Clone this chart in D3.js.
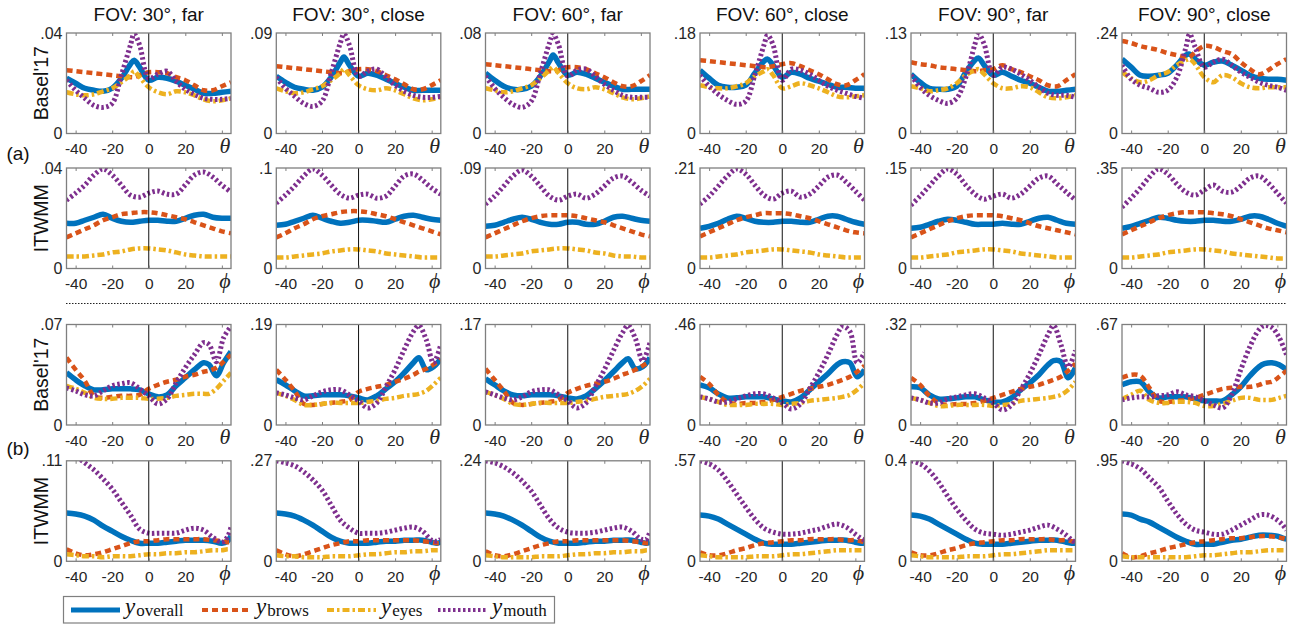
<!DOCTYPE html>
<html>
<head>
<meta charset="utf-8">
<script src="https://cdn.jsdelivr.net/npm/d3@7"></script>
<style>
  body { margin: 0; background: #fff; }
  svg { display: block; }
</style>
</head>
<body>
<svg id="fig" width="1303" height="628"></svg>
<script>
// angles sampled along each row
var thetaA = [-45,-40,-35,-30,-25,-20,-15,-10,-8,-5,0,5,10,15,20,25,30,35,40,45];
var phiA   = [-45,-40,-35,-30,-25,-20,-15,-10,-5,0,5,10,15,20,25,30,35,40,45];
var thetaB = [-45,-40,-35,-30,-25,-20,-15,-10,-5,0,5,10,15,20,25,30,33,37,41,45];
var phiB   = [-45,-40,-35,-30,-25,-20,-15,-10,-5,0,5,10,15,20,25,30,35,40,43,45];

var columns = ["FOV: 30°, far", "FOV: 30°, close", "FOV: 60°, far", "FOV: 60°, close", "FOV: 90°, far", "FOV: 90°, close"];

// y axis maxima and their labels
var basA_max = [0.04, 0.09, 0.08, 0.18, 0.13, 0.24];
var basA_ticks = [".04", ".09", ".08", ".18", ".13", ".24"];
var itwA_max = [0.04, 0.1, 0.09, 0.21, 0.15, 0.35];
var itwA_ticks = [".04", ".1", ".09", ".21", ".15", ".35"];
var basB_max = [0.07, 0.19, 0.17, 0.46, 0.32, 0.67];
var basB_ticks = [".07", ".19", ".17", ".46", ".32", ".67"];
var itwB_max = [0.11, 0.27, 0.24, 0.57, 0.4, 0.95];
var itwB_ticks = [".11", ".27", ".24", ".57", "0.4", ".95"];

// (a) Basel'17, theta
var basA_overall = [
  [.022,.020,.018,.0172,.0168,.018,.022,.0276,.0292,.0264,.0212,.0224,.022,.0208,.0192,.0176,.016,.016,.0164,.0168],
  [.0513,.0459,.0414,.0396,.0387,.0414,.0504,.0639,.0684,.0612,.0513,.054,.0522,.0486,.045,.0414,.0387,.0387,.0387,.0387],
  [.048,.0424,.0376,.0352,.0352,.0376,.0456,.0576,.0624,.056,.0464,.0488,.0472,.044,.0408,.0376,.0352,.0352,.0352,.0352],
  [.1134,.099,.0864,.0828,.0828,.0864,.108,.1296,.1332,.1224,.1008,.1098,.1062,.099,.0936,.0882,.0828,.0828,.081,.081],
  [.0767,.0663,.0585,.0572,.0572,.0611,.0793,.0949,.0975,.0884,.0754,.0793,.0741,.0689,.065,.0598,.0546,.0546,.0559,.0572],
  [.1776,.1584,.1392,.1368,.1392,.144,.1632,.1872,.1896,.1776,.1632,.1704,.1728,.1632,.1512,.1392,.132,.1296,.1296,.1272]
];
var basA_brows = [
  [.0252,.0248,.0244,.024,.0236,.0232,.0228,.0224,.0224,.0232,.0244,.0244,.024,.0224,.0212,.0192,.0172,.0172,.0188,.0204],
  [.0603,.0594,.0585,.0576,.0567,.0558,.0549,.054,.054,.0558,.0576,.0576,.0558,.0522,.0486,.0441,.0396,.0396,.0432,.0477],
  [.0552,.0544,.0536,.0528,.052,.0512,.0504,.0496,.0496,.0504,.0528,.0528,.0512,.048,.0448,.0408,.0376,.0376,.0416,.0464],
  [.1314,.1296,.1278,.126,.1242,.1224,.1206,.1188,.1188,.1206,.1242,.126,.1206,.1134,.1062,.0972,.0882,.0864,.0954,.1062],
  [.0923,.0897,.0884,.0858,.0845,.0832,.0819,.0806,.0806,.0819,.0832,.0884,.0832,.0793,.0741,.0689,.0624,.0611,.0689,.0767],
  [.2208,.216,.2088,.204,.1992,.192,.1872,.1824,.1824,.1944,.2088,.2064,.1968,.1896,.1704,.1536,.1416,.1512,.1656,.1776]
];
var basA_eyes = [
  [.0164,.0156,.0152,.0156,.0168,.018,.0204,.0232,.0248,.0224,.0184,.0164,.0156,.0168,.0164,.0152,.0136,.0128,.0132,.014],
  [.0405,.0378,.036,.0369,.0396,.0423,.0477,.054,.0576,.0522,.0432,.0396,.0387,.0405,.0387,.0351,.0315,.0297,.0306,.0324],
  [.036,.0344,.0328,.0336,.036,.0384,.044,.0504,.0528,.048,.04,.036,.0352,.0368,.0352,.032,.0288,.0272,.028,.0296],
  [.0864,.0828,.081,.081,.0846,.09,.1026,.1116,.1152,.1044,.081,.0846,.09,.0864,.081,.0738,.0666,.0648,.0666,.0684],
  [.0611,.0585,.0546,.0559,.0585,.065,.0754,.0819,.0832,.0767,.065,.0585,.0585,.0611,.0598,.0533,.0468,.0455,.0468,.0494],
  [.1464,.132,.1224,.1272,.1392,.1464,.1632,.1752,.1776,.1656,.1344,.1224,.1392,.1344,.12,.1104,.108,.1104,.1104,.1104]
];
var basA_mouth = [
  [.0212,.0172,.014,.0112,.0104,.012,.0232,.0352,.0396,.0352,.022,.0236,.0248,.0208,.0176,.0156,.014,.0136,.0136,.014],
  [.0504,.0405,.0333,.027,.0243,.0288,.054,.081,.0891,.0792,.0513,.0558,.0576,.0504,.0432,.0378,.0342,.0324,.0324,.0333],
  [.0456,.036,.0288,.0232,.0208,.0256,.048,.072,.0792,.0704,.0456,.0504,.0512,.0456,.0392,.0344,.0304,.0288,.0288,.0288],
  [.1044,.0846,.0702,.0594,.0522,.0576,.1044,.1584,.1764,.1584,.0954,.1152,.1134,.1062,.0954,.0846,.0774,.072,.0666,.063],
  [.0754,.0598,.0494,.0429,.039,.0455,.0728,.1157,.1287,.1157,.0754,.0858,.0832,.0767,.0689,.0598,.052,.0494,.0494,.0468],
  [.1632,.1296,.1152,.108,.0984,.1032,.1344,.2064,.2376,.2064,.1584,.1704,.1776,.1632,.1464,.1344,.1224,.1152,.1104,.1032]
];

// (a) ITWMM, phi
var itwA_overall = [
  [.018,.018,.0192,.0204,.0216,.02,.0188,.0184,.0188,.0192,.0192,.0188,.0188,.02,.0212,.0216,.0204,.02,.02],
  [.043,.044,.047,.05,.053,.05,.047,.045,.046,.048,.048,.047,.046,.049,.052,.053,.051,.049,.048],
  [.0378,.0387,.0414,.0441,.0459,.0441,.0414,.0396,.0396,.0414,.0414,.0396,.0396,.0423,.0459,.0468,.045,.0432,.0423],
  [.084,.0882,.0945,.1029,.1092,.105,.0987,.0966,.0966,.0987,.0987,.0966,.0966,.1029,.1092,.1092,.1029,.0966,.0924],
  [.06,.0615,.066,.0705,.0735,.072,.069,.066,.066,.066,.0675,.066,.066,.0705,.075,.0765,.072,.0675,.066],
  [.14,.147,.1575,.168,.1785,.175,.168,.1645,.1645,.168,.168,.1645,.1645,.1715,.182,.182,.1715,.1575,.147]
];
var itwA_brows = [
  [.0124,.014,.0156,.0172,.0192,.0204,.0216,.022,.0224,.0224,.022,.0212,.0204,.0196,.0184,.0172,.016,.0148,.014],
  [.031,.035,.04,.044,.049,.052,.054,.056,.057,.057,.056,.054,.052,.049,.046,.043,.04,.037,.034],
  [.0279,.0315,.0351,.0387,.0423,.045,.0468,.0477,.0477,.0477,.0468,.045,.0432,.0414,.0387,.036,.0333,.0306,.0288],
  [.0672,.0756,.084,.0924,.1008,.1071,.1113,.1155,.1155,.1155,.1134,.1092,.105,.0987,.0924,.0861,.0798,.0756,.0735],
  [.0465,.0525,.0585,.0645,.0705,.075,.078,.0795,.0795,.0795,.078,.075,.072,.0675,.063,.06,.057,.054,.051],
  [.119,.133,.147,.161,.175,.1855,.1925,.196,.196,.196,.1925,.189,.182,.1715,.161,.1505,.14,.133,.126]
];
var itwA_eyes = [
  [.0048,.0048,.0048,.0052,.0056,.0064,.0068,.0076,.008,.008,.0076,.0072,.0064,.0056,.0052,.0048,.0048,.0048,.0048],
  [.011,.011,.012,.013,.014,.015,.017,.018,.019,.019,.018,.017,.015,.014,.013,.012,.011,.011,.011],
  [.0108,.0108,.0117,.0126,.0135,.0153,.0162,.0171,.018,.018,.0171,.0162,.0144,.0135,.0117,.0108,.0108,.0099,.0099],
  [.0231,.0231,.0252,.0273,.0294,.0336,.0357,.0378,.0399,.0399,.0378,.0357,.0336,.0294,.0273,.0252,.0231,.0231,.0231],
  [.0165,.0165,.018,.0195,.021,.024,.0255,.027,.0285,.0285,.027,.0255,.0225,.021,.0195,.018,.0165,.0165,.0165],
  [.0385,.0385,.042,.0455,.049,.056,.0595,.063,.0665,.0665,.063,.0595,.0525,.049,.0455,.042,.0385,.035,.035]
];
var itwA_mouth = [
  [.0272,.03,.0332,.0372,.0396,.0372,.0332,.0292,.0284,.03,.0308,.0296,.0296,.0332,.0372,.0384,.0364,.0332,.0304],
  [.065,.073,.082,.092,.099,.093,.083,.074,.070,.073,.074,.070,.072,.082,.092,.094,.088,.080,.074],
  [.0576,.0648,.0738,.0828,.0882,.0828,.0738,.0648,.0612,.0648,.0666,.063,.0666,.0738,.081,.0828,.0774,.0702,.0648],
  [.1344,.1512,.1722,.1932,.2079,.1974,.1743,.1533,.1449,.1575,.1617,.1491,.1554,.1722,.1911,.1953,.1806,.1617,.1428],
  [.0945,.108,.123,.138,.1485,.141,.1245,.111,.1035,.108,.111,.105,.111,.123,.135,.138,.126,.114,.102],
  [.2135,.245,.28,.3185,.3465,.329,.294,.266,.2555,.273,.2905,.2695,.266,.287,.315,.322,.2975,.2625,.2275]
];

// (b) Basel'17, theta
var basB_overall = [
  [.0364,.0315,.0273,.0245,.0245,.0252,.0252,.0252,.0245,.0217,.0196,.021,.0273,.0329,.0385,.0434,.042,.0343,.0434,.0511],
  [.0855,.076,.0646,.0551,.0551,.057,.057,.057,.0551,.0513,.0475,.0551,.0684,.0817,.0988,.1178,.1273,.1045,.1102,.1254],
  [.0782,.068,.0578,.051,.0493,.051,.051,.051,.0493,.0459,.0442,.0493,.0612,.0748,.0901,.1054,.1122,.0952,.0986,.1139],
  [.184,.1702,.1426,.1242,.1242,.1288,.1288,.1288,.1196,.1104,.1058,.1242,.161,.1978,.2346,.276,.2898,.2852,.2208,.253],
  [.1216,.1184,.096,.0832,.0832,.0864,.0896,.0896,.08,.0736,.0736,.0864,.112,.1344,.16,.192,.2048,.2016,.1504,.1824],
  [.268,.2881,.2881,.2211,.1809,.1876,.1876,.1876,.1742,.1608,.1608,.1608,.201,.2546,.3283,.3886,.4087,.4154,.402,.3685]
];
var basB_brows = [
  [.0469,.0385,.0308,.0203,.0189,.0196,.0203,.0203,.021,.0252,.028,.0301,.0315,.0336,.035,.0371,.0378,.0399,.0441,.049],
  [.1045,.0855,.0646,.0399,.038,.0399,.0418,.0437,.0475,.0627,.0684,.0722,.076,.0817,.0874,.095,.1007,.1064,.114,.1235],
  [.0952,.0765,.0578,.0374,.034,.0357,.0374,.0391,.0425,.0544,.0612,.0663,.0697,.0731,.0782,.085,.0884,.0935,.1003,.1071],
  [.2208,.1886,.138,.1058,.0966,.1012,.1012,.1058,.115,.1288,.1426,.1564,.1656,.1748,.184,.1978,.207,.2208,.2438,.2714],
  [.1504,.128,.0928,.0704,.064,.0672,.0672,.0704,.0768,.0864,.096,.1056,.1152,.1216,.128,.1376,.144,.1536,.1728,.1952],
  [.3149,.335,.3283,.2479,.1608,.1541,.1608,.1675,.1809,.201,.2211,.2412,.2479,.2546,.2546,.268,.2814,.2881,.3216,.3618]
];
var basB_eyes = [
  [.0273,.0252,.0224,.0189,.0182,.0182,.0189,.0189,.0189,.0182,.0182,.0189,.0203,.021,.0217,.0217,.0217,.0252,.0308,.0364],
  [.0608,.0551,.0475,.038,.038,.0399,.0418,.0418,.0418,.0418,.0437,.0456,.0494,.0513,.0551,.057,.0589,.0646,.076,.0893],
  [.0561,.051,.0442,.0357,.034,.0357,.0374,.0374,.0374,.0374,.0391,.0408,.0442,.0476,.0493,.051,.0527,.0578,.0663,.0782],
  [.1288,.1196,.1058,.092,.092,.092,.0966,.0966,.0966,.092,.0966,.1012,.1104,.115,.1196,.1242,.1288,.138,.161,.1932],
  [.0864,.08,.0704,.0608,.0608,.064,.064,.064,.064,.0608,.064,.0672,.0768,.08,.0832,.0864,.0896,.096,.112,.1376],
  [.1742,.201,.2278,.1675,.1474,.1474,.1541,.1541,.1474,.1273,.1273,.1407,.1608,.1809,.1809,.1675,.1675,.1675,.1809,.1943]
];
var basB_mouth = [
  [.0259,.0238,.021,.0203,.0238,.0273,.0287,.0294,.0252,.0203,.0147,.0182,.0294,.0399,.049,.0574,.056,.0441,.0609,.0686],
  [.0608,.057,.0513,.0475,.0551,.0627,.0665,.0665,.057,.0456,.0323,.0418,.0722,.1045,.1425,.1767,.1881,.1615,.1178,.152],
  [.0561,.051,.0459,.0425,.0476,.0561,.0595,.0595,.051,.0408,.0289,.0374,.0646,.0935,.1258,.1564,.1683,.1462,.1088,.1394],
  [.1288,.1196,.1058,.1058,.1196,.1334,.1426,.1426,.1242,.1012,.0736,.0966,.1656,.2392,.322,.414,.4508,.4278,.2852,.3312],
  [.0864,.08,.0704,.0704,.0832,.0896,.096,.0992,.0864,.0704,.048,.064,.112,.1632,.224,.288,.3168,.256,.1856,.2368],
  [.1675,.1809,.1876,.1876,.1943,.201,.2211,.201,.1876,.1608,.134,.1139,.201,.3685,.5226,.6365,.6633,.6499,.5829,.469]
];

// (b) ITWMM, phi
var itwB_overall = [
  [.0528,.0517,.0495,.0451,.0385,.033,.0275,.0231,.0198,.0198,.0198,.0209,.022,.0231,.0231,.0231,.022,.0198,.022,.0275],
  [.1296,.1269,.1215,.1107,.0972,.081,.0648,.054,.0486,.0486,.0486,.0513,.054,.054,.0567,.0567,.0567,.0513,.0486,.0513],
  [.1152,.1128,.108,.0984,.0864,.072,.0576,.048,.0432,.0432,.0432,.0456,.048,.048,.0504,.0504,.0504,.0456,.0432,.0456],
  [.2622,.2565,.2394,.2109,.1824,.1539,.1254,.1026,.0969,.0969,.0969,.1026,.1083,.114,.1197,.1197,.1197,.1083,.1026,.1026],
  [.184,.18,.168,.148,.128,.108,.088,.072,.068,.068,.068,.072,.076,.08,.084,.084,.084,.076,.072,.072],
  [.4465,.437,.399,.3705,.323,.2755,.228,.19,.1615,.1615,.1615,.1805,.1995,.209,.228,.247,.247,.2375,.2185,.209]
];
var itwB_brows = [
  [.0132,.0088,.0066,.0077,.0099,.0132,.0165,.0198,.022,.022,.0231,.0242,.0242,.0242,.0242,.0242,.0231,.022,.0209,.0209],
  [.0297,.0189,.0135,.0189,.027,.0351,.0432,.0486,.054,.054,.0567,.0567,.0567,.0567,.0567,.0567,.054,.0513,.0486,.0486],
  [.024,.0144,.012,.0168,.024,.0312,.0384,.0432,.048,.048,.0504,.0504,.0504,.0504,.0504,.0504,.048,.0456,.0432,.0432],
  [.0513,.0342,.0342,.0456,.0627,.0741,.0912,.1026,.1083,.114,.1197,.1197,.1254,.1254,.1254,.1254,.1197,.1197,.114,.1083],
  [.036,.024,.024,.032,.044,.052,.064,.072,.076,.08,.084,.084,.088,.088,.088,.088,.084,.084,.08,.076],
  [.076,.038,.0475,.076,.095,.1235,.1425,.1615,.1805,.19,.1995,.209,.2185,.2185,.228,.2375,.2375,.228,.2185,.209]
];
var itwB_eyes = [
  [.0077,.0066,.0055,.0055,.0044,.0055,.0055,.0055,.0066,.0077,.0077,.0088,.0088,.0099,.0099,.011,.0121,.0121,.0132,.0132],
  [.0162,.0135,.0135,.0108,.0108,.0108,.0135,.0135,.0135,.0162,.0189,.0189,.0216,.0243,.0243,.027,.027,.0297,.0297,.0297],
  [.0144,.012,.0096,.0096,.0096,.0096,.012,.012,.012,.0144,.0168,.0168,.0192,.0192,.0216,.0216,.024,.024,.0264,.0264],
  [.0342,.0285,.0228,.0228,.0228,.0228,.0285,.0285,.0285,.0342,.0399,.0399,.0456,.0513,.057,.0627,.0627,.0627,.0627,.0627],
  [.024,.02,.016,.016,.016,.016,.02,.02,.02,.024,.028,.028,.032,.036,.04,.044,.044,.044,.044,.044],
  [.0475,.038,.038,.038,.038,.038,.038,.038,.0475,.057,.057,.0665,.076,.0855,.0855,.095,.1045,.1045,.1045,.1045]
];
var itwB_mouth = [
  [.1265,.1155,.1078,.1001,.0902,.0792,.0649,.0506,.0352,.0308,.0308,.0308,.0308,.0341,.0363,.0341,.0264,.0209,.0264,.0374],
  [.27,.2646,.2565,.2403,.2187,.1917,.1512,.1107,.0891,.0756,.0756,.0756,.0783,.0837,.0891,.0918,.081,.0567,.054,.0594],
  [.24,.2352,.2256,.2112,.192,.168,.1344,.1008,.0792,.0696,.0672,.0672,.0696,.0744,.0792,.0816,.072,.0528,.0528,.072],
  [.57,.5529,.5187,.456,.3819,.3078,.2394,.1881,.1653,.1539,.1539,.1596,.171,.1824,.1995,.2109,.1938,.1539,.1311,.1197],
  [.4,.388,.36,.316,.26,.208,.164,.128,.112,.108,.104,.108,.116,.124,.136,.144,.128,.104,.084,.076],
  [.95,.9215,.874,.7885,.703,.57,.4465,.3515,.2945,.2755,.2565,.2565,.2945,.342,.3895,.437,.437,.3895,.342,.2945]
];

var seriesNames = ["overall", "brows", "eyes", "mouth"];

// line styles, in draw order
var styles = [
  { color: "#0072BD", width: 5.5, dash: null },
  { color: "#D95319", width: 4.5, dash: "6,4" },
  { color: "#EDB120", width: 4.5, dash: "7,3,2.5,3" },
  { color: "#7E2F8E", width: 5, dash: "2.5,2.5" }
];

var rows = [
  { label: "Basel'17", angle: thetaA, sym: "θ", max: basA_max, ticks: basA_ticks, data: [basA_overall, basA_brows, basA_eyes, basA_mouth] },
  { label: "ITWMM", angle: phiA, sym: "ϕ", max: itwA_max, ticks: itwA_ticks, data: [itwA_overall, itwA_brows, itwA_eyes, itwA_mouth] },
  { label: "Basel'17", angle: thetaB, sym: "θ", max: basB_max, ticks: basB_ticks, data: [basB_overall, basB_brows, basB_eyes, basB_mouth] },
  { label: "ITWMM", angle: phiB, sym: "ϕ", max: itwB_max, ticks: itwB_ticks, data: [itwB_overall, itwB_brows, itwB_eyes, itwB_mouth] }
];

var colLeft = [66.5, 276.3, 485.5, 700, 911, 1122];
var rowTop = [33, 168, 324.5, 460.8];
var pw = 164.5, ph = 100.5;

var sans = "Liberation Sans, Arial, sans-serif";
var serif = "Liberation Serif, DejaVu Serif, serif";
var textColor = "#262626";

var svg = d3.select("#fig");

var x = d3.scaleLinear().domain([-45, 45]).range([0, pw]);

// column titles
svg.selectAll("text.title")
  .data(columns)
  .enter()
  .append("text")
  .attr("class", "title")
  .attr("x", (d, i) => colLeft[i] + pw / 2)
  .attr("y", 20.7)
  .attr("text-anchor", "middle")
  .attr("font-family", sans)
  .attr("font-size", 19)
  .attr("fill", "#111")
  .text(d => d);

rows.forEach(function(row, r) {
  var top = rowTop[r];

  // row label
  svg.append("text")
    .attr("transform", `translate(48, ${top + ph / 2}) rotate(-90)`)
    .attr("text-anchor", "middle")
    .attr("font-family", sans)
    .attr("font-size", 19.5)
    .attr("fill", "#111")
    .text(row.label);

  columns.forEach(function(title, c) {
    var g = svg.append("g")
      .attr("transform", `translate(${colLeft[c]}, ${top})`);

    var y = d3.scaleLinear().domain([0, row.max[c]]).range([ph, 0]);

    var clipId = `clip-${r}-${c}`;
    g.append("clipPath").attr("id", clipId)
      .append("rect").attr("width", pw).attr("height", ph);

    g.append("rect")
      .attr("width", pw)
      .attr("height", ph)
      .attr("fill", "#fff");

    var line = d3.line()
      .x((d, i) => x(row.angle[i]))
      .y(d => y(d))
      .curve(d3.curveCatmullRom.alpha(0.5));

    var lines = g.append("g").attr("clip-path", `url(#${clipId})`);
    row.data.forEach(function(series, s) {
      lines.append("path")
        .datum(series[c])
        .attr("d", line)
        .attr("fill", "none")
        .attr("stroke", styles[s].color)
        .attr("stroke-width", styles[s].width)
        .attr("stroke-dasharray", styles[s].dash)
        .attr("stroke-linejoin", "round");
    });

    // zero line
    g.append("line")
      .attr("x1", x(0)).attr("x2", x(0))
      .attr("y1", 0).attr("y2", ph)
      .attr("stroke", "#111")
      .attr("stroke-width", 1);

    // box
    g.append("rect")
      .attr("width", pw)
      .attr("height", ph)
      .attr("fill", "none")
      .attr("stroke", "#7f7f7f")
      .attr("stroke-width", 1.3);

    // x axis with inward ticks
    var bottomAxis = d3.axisBottom(x)
      .tickValues([-40, -20, 0, 20, 40])
      .tickFormat(d => d === 40 ? "" : d)
      .tickSize(-3)
      .tickPadding(9.5);
    var xa = g.append("g")
      .attr("transform", `translate(0, ${ph})`)
      .call(bottomAxis);
    xa.select(".domain").remove();
    xa.selectAll("line").attr("stroke", "#7f7f7f");
    xa.attr("font-family", sans).attr("font-size", 15.5);
    xa.selectAll("text").attr("fill", textColor);

    var topAxis = d3.axisTop(x)
      .tickValues([-40, -20, 20, 40])
      .tickFormat("")
      .tickSize(-3);
    var ta = g.append("g").call(topAxis);
    ta.select(".domain").remove();
    ta.selectAll("line").attr("stroke", "#7f7f7f");

    // angle symbol in place of the 40 label
    g.append("text")
      .attr("x", x(40) + 3)
      .attr("y", ph + 19)
      .attr("text-anchor", "middle")
      .attr("font-family", serif)
      .attr("font-style", "italic")
      .attr("font-size", 22)
      .attr("fill", textColor)
      .text(row.sym);

    // y axis: 0 and max only
    var leftAxis = d3.axisLeft(y)
      .tickValues([0, row.max[c]])
      .tickFormat((d, i) => i === 0 ? "0" : row.ticks[c])
      .tickSize(0)
      .tickPadding(4);
    var ya = g.append("g").call(leftAxis);
    ya.select(".domain").remove();
    ya.attr("font-family", sans).attr("font-size", 16);
    ya.selectAll("text").attr("fill", textColor);
  });
});

// (a) / (b) markers
svg.append("text")
  .attr("x", 18).attr("y", 160)
  .attr("text-anchor", "middle")
  .attr("font-family", sans).attr("font-size", 19)
  .attr("fill", "#111")
  .text("(a)");
svg.append("text")
  .attr("x", 18).attr("y", 455)
  .attr("text-anchor", "middle")
  .attr("font-family", sans).attr("font-size", 19)
  .attr("fill", "#111")
  .text("(b)");

// dotted separator
svg.append("line")
  .attr("x1", 66).attr("x2", 1287)
  .attr("y1", 303.5).attr("y2", 303.5)
  .attr("stroke", "#222")
  .attr("stroke-width", 1)
  .attr("stroke-dasharray", "1.5,1.5");

// legend
var legend = svg.append("g");
legend.append("rect")
  .attr("x", 63.5).attr("y", 596.5)
  .attr("width", 491).attr("height", 26.5)
  .attr("fill", "#fff")
  .attr("stroke", "#7f7f7f")
  .attr("stroke-width", 1.2);

var legendX = [71, 202, 327, 438];
seriesNames.forEach(function(name, s) {
  legend.append("line")
    .attr("x1", legendX[s]).attr("x2", legendX[s] + 49)
    .attr("y1", 610).attr("y2", 610)
    .attr("stroke", styles[s].color)
    .attr("stroke-width", s === 0 ? 5 : 4)
    .attr("stroke-dasharray", styles[s].dash);
  var t = legend.append("text")
    .attr("x", legendX[s] + 54)
    .attr("y", 613.5)
    .attr("font-family", serif)
    .attr("fill", "#111");
  t.append("tspan")
    .attr("font-style", "italic")
    .attr("font-size", 23)
    .text("y");
  t.append("tspan")
    .attr("font-size", 17)
    .attr("dy", 2.5)
    .attr("dx", 1)
    .text(name);
});
</script>
</body>
</html>
